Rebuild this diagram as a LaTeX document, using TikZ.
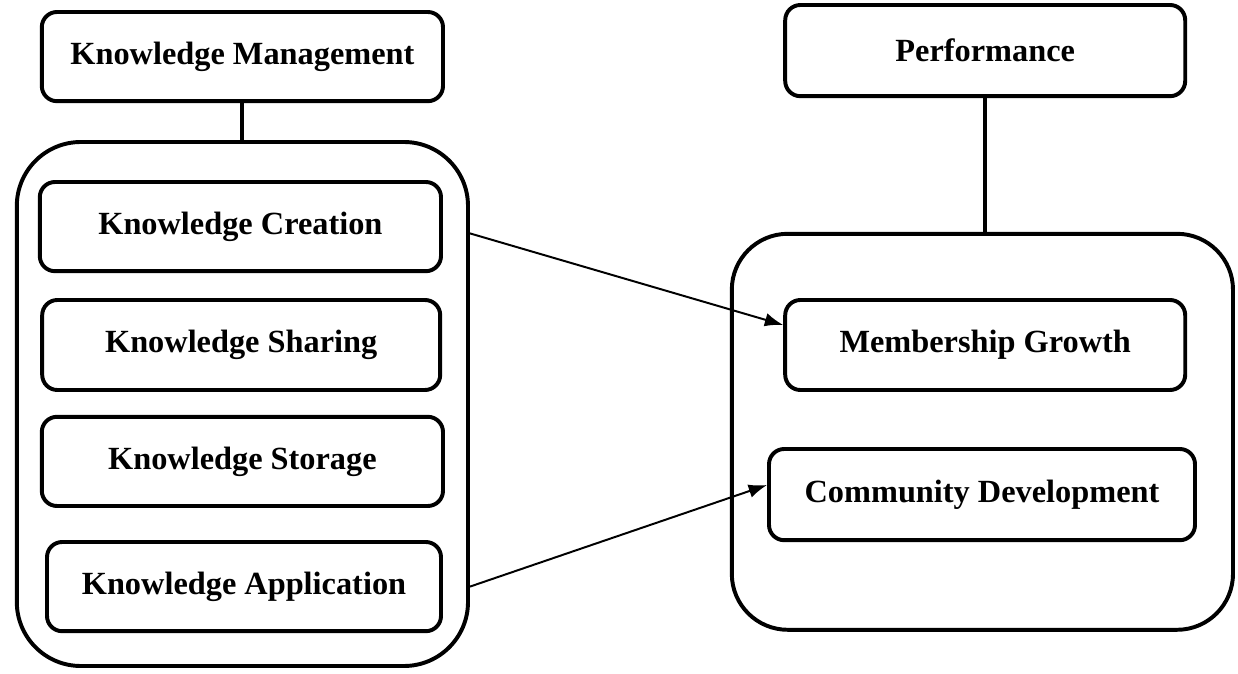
\documentclass[tikz,border=0pt]{standalone}
\usepackage{fontspec}
\setmainfont{Liberation Serif}
\usepackage{tikz}
\usetikzlibrary{positioning,arrows.meta,calc}

\begin{document}
\begin{tikzpicture}[font=\fontsize{23}{27}\selectfont\bfseries,>=Latex,
  blk/.style={draw,line width=2.8pt,rounded corners=3.8mm,minimum width=10cm,
    minimum height=2.23cm,inner sep=2pt,align=center},
  grp/.style={draw,line width=2.8pt,rounded corners=16mm,inner sep=0pt},
  lnk/.style={line width=1.4pt,->,>={Latex[length=4.6mm,width=3.4mm]}}]
  \useasboundingbox (0,0) rectangle (30.95,16.825);
  % ---- knowledge management side ----
  \node[grp,minimum width=11.28cm,minimum height=13.1cm] (lc) at (6.06,6.725) {};
  \node[blk,minimum width=10.03cm] (km) at (6.06,15.41) {Knowledge Management};
  \draw[line width=2.8pt] (km) -- (lc);
  \node[blk,minimum width=10.03cm] (kc) at (6.01,11.16) {Knowledge Creation};
  \node[blk,minimum width=9.95cm,minimum height=2.25cm] (ks) at (6.03,8.2)
     {Knowledge Sharing};
  \node[blk,minimum width=10.03cm] (kst) at (6.06,5.29) {Knowledge Storage};
  \node[blk,minimum width=9.85cm] (ka) at (6.1,2.16) {Knowledge Application};
  % ---- performance side ----
  \node[grp,minimum width=12.53cm,minimum height=9.9cm,rounded corners=14mm]
     (rc) at (24.56,6.03) {};
  \node[blk,minimum height=2.28cm] (perf) at (24.63,15.56) {Performance};
  \draw[line width=2.8pt] (perf.south) -- (perf.south|-rc.north);
  \node[blk,minimum height=2.25cm] (mg) at (24.63,8.2) {Membership Growth};
  \node[blk,minimum width=10.65cm,minimum height=2.28cm] (cd) at (24.55,4.46)
     {Community Development};
  % ---- links ----
  \draw[lnk] ($(lc.east|-kc)+(0,-0.17)$) -- ($(mg.west)+(0,0.5)$);
  \draw[lnk] (lc.east|-ka) -- ($(cd.west)+(0,0.24)$);
\end{tikzpicture}
\end{document}
